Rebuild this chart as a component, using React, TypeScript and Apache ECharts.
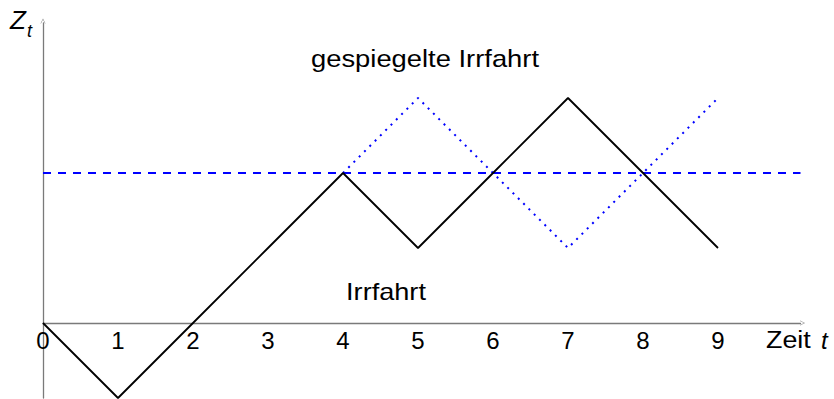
import React, { useEffect, useRef } from "react";
import * as echarts from "echarts";

const timeSteps = [0, 1, 2, 3, 4, 5, 6, 7, 8, 9];
const walkValues = [0, -1, 0, 1, 2, 1, 2, 3, 2, 1];
const mirroredSteps = [4, 5, 6, 7, 8, 9];
const mirroredValues = [2, 3, 2, 1, 2, 3];
const barrierLevel = 2;
const barrierRange = [0, 10.1];
const xTickLabels = ["0", "1", "2", "3", "4", "5", "6", "7", "8", "9"];

const FONT = "'Liberation Sans', Arial, Helvetica, sans-serif";
const chevron = "path://M0,10 L5,0 L10,10 L9,10 L5,2 L1,10 Z";

export default function App() {
  const ref = useRef<HTMLDivElement>(null);
  useEffect(() => {
    if (!ref.current) return;
    const chart = echarts.init(ref.current, null, { renderer: "svg" });
    const txt = (text: string, x: number, y: number, size: number, opts: any = {}) => ({
      type: "text",
      x,
      y,
      scaleX: opts.scaleX ?? 1,
      style: {
        text,
        fontSize: size,
        fontFamily: FONT,
        fontStyle: opts.italic ? "italic" : "normal",
        fill: "#000",
        align: opts.align ?? "left",
        verticalAlign: "middle",
      },
    });
    chart.setOption({
      animation: false,
      backgroundColor: "#fff",
      grid: { left: 43, right: 33.5, top: 23, bottom: 1, containLabel: false, outerBoundsMode: "none" },
      xAxis: {
        type: "value",
        min: 0,
        max: 10.1,
        interval: 1,
        axisLine: {
          onZero: true,
          lineStyle: { color: "#7a7a7a", width: 1.3 },
          symbol: ["none", chevron],
          symbolSize: [7, 5],
          symbolOffset: [0, 2],
        },
        axisTick: { show: false },
        splitLine: { show: false },
        axisLabel: { show: false },
      },
      yAxis: {
        type: "value",
        min: -1,
        max: 4,
        interval: 1,
        axisLine: {
          show: true,
          onZero: false,
          lineStyle: { color: "#7a7a7a", width: 1.3 },
          symbol: ["none", chevron],
          symbolSize: [7, 5],
          symbolOffset: [0, 2],
        },
        axisTick: { show: false },
        splitLine: { show: false },
        axisLabel: { show: false },
      },
      series: [
        {
          type: "line",
          data: barrierRange.map((x) => [x, barrierLevel]),
          symbol: "none",
          lineStyle: { color: "#0000ff", width: 1.8, type: [8, 7] },
          z: 1,
        },
        {
          type: "line",
          data: mirroredSteps.map((t, i) => [t, mirroredValues[i]]),
          symbol: "none",
          lineStyle: { color: "#0000ff", width: 2, type: [2, 5.5] },
          z: 2,
        },
        {
          type: "line",
          data: timeSteps.map((t, i) => [t, walkValues[i]]),
          symbol: "none",
          lineStyle: { color: "#000", width: 1.8 },
          z: 3,
        },
        {
          type: "scatter",
          data: timeSteps.map((t) => [t, 0]),
          symbolSize: 0,
          silent: true,
          z: 0,
          label: {
            show: true,
            position: "bottom",
            distance: 5,
            fontSize: 24,
            fontFamily: FONT,
            color: "#000",
            opacity: 1,
            formatter: (p: any) => xTickLabels[p.dataIndex],
          },
        },
      ],
      graphic: [
        txt("Z", 10, 20, 26, { italic: true }),
        txt("t", 27, 31, 18, { italic: true }),
        txt("gespiegelte Irrfahrt", 425, 59, 24, { align: "center", scaleX: 1.14 }),
        txt("Irrfahrt", 386, 291.5, 24, { align: "center", scaleX: 1.13 }),
        txt("Zeit", 766, 340, 24, { scaleX: 1.12 }),
        txt("t", 821, 340, 24, { italic: true }),
      ],
    });
    return () => chart.dispose();
  }, []);
  return <div ref={ref} style={{ width: 834, height: 399, position: "absolute", left: 0, top: 0 }} />;
}
